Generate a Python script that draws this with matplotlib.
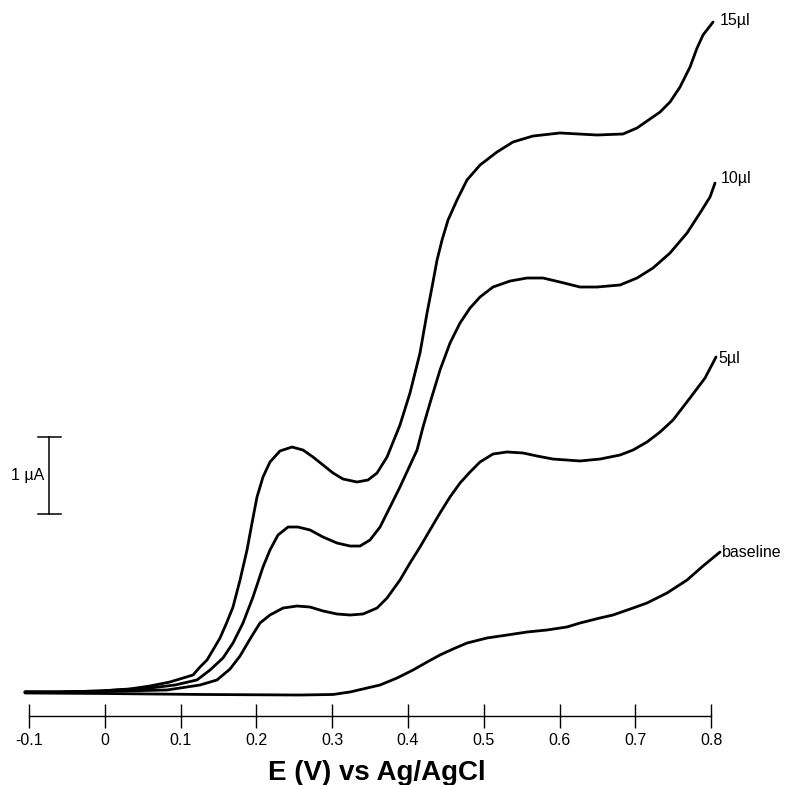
import numpy as np
import matplotlib
matplotlib.use("Agg")
import matplotlib.pyplot as plt

plt.rcParams['font.family'] = ['Liberation Sans', 'DejaVu Sans']

# potential (V vs Ag/AgCl) and current (uA, relative to start level)
E_15 = [-0.1053, -0.0591, -0.0063, 0.0332, 0.0596, 0.0860, 0.1032, 0.1164, 0.1256, 0.1348,
        0.1427, 0.1520, 0.1612, 0.1691, 0.1784, 0.1876, 0.1942, 0.2008, 0.2087, 0.2179,
        0.2311, 0.2470, 0.2615, 0.2747, 0.2879, 0.3011, 0.3142, 0.3327, 0.3472, 0.3591,
        0.3723, 0.3894, 0.4026, 0.4158, 0.4251, 0.4317, 0.4383, 0.4449, 0.4528, 0.4646,
        0.4778, 0.4950, 0.5174, 0.5385, 0.5649, 0.6005, 0.6493, 0.6836, 0.7021, 0.7153,
        0.7325, 0.7456, 0.7588, 0.7720, 0.7813, 0.7892, 0.8024]
I_15 = [0.013, 0.013, 0.026, 0.052, 0.090, 0.142, 0.193, 0.232, 0.335, 0.425,
        0.554, 0.709, 0.915, 1.108, 1.456, 1.843, 2.191, 2.526, 2.784, 2.977,
        3.119, 3.170, 3.131, 3.041, 2.938, 2.835, 2.758, 2.719, 2.745, 2.835,
        3.041, 3.454, 3.866, 4.382, 4.897, 5.232, 5.580, 5.838, 6.095, 6.353,
        6.611, 6.804, 6.972, 7.101, 7.178, 7.217, 7.191, 7.204, 7.281, 7.371,
        7.487, 7.616, 7.809, 8.067, 8.312, 8.480, 8.647]

E_10 = [-0.1053, -0.0591, -0.0063, 0.0596, 0.0926, 0.1216, 0.1388, 0.1559, 0.1691, 0.1823,
        0.1955, 0.2087, 0.2179, 0.2285, 0.2417, 0.2549, 0.2707, 0.2879, 0.3063, 0.3235,
        0.3367, 0.3499, 0.3631, 0.3763, 0.3894, 0.4119, 0.4198, 0.4290, 0.4422, 0.4554,
        0.4686, 0.4818, 0.4950, 0.5121, 0.5346, 0.5570, 0.5781, 0.6005, 0.6269, 0.6493,
        0.6797, 0.7021, 0.7232, 0.7456, 0.7681, 0.7852, 0.7984, 0.8050]
I_10 = [0.013, 0.013, 0.026, 0.064, 0.103, 0.168, 0.296, 0.451, 0.644, 0.902,
        1.237, 1.624, 1.843, 2.036, 2.139, 2.139, 2.101, 2.010, 1.933, 1.894,
        1.894, 1.972, 2.139, 2.397, 2.655, 3.131, 3.428, 3.737, 4.162, 4.510,
        4.768, 4.961, 5.103, 5.232, 5.309, 5.348, 5.348, 5.296, 5.232, 5.232,
        5.258, 5.348, 5.477, 5.670, 5.928, 6.186, 6.392, 6.572]

E_5 = [-0.1053, -0.0591, -0.0063, 0.0821, 0.1256, 0.1480, 0.1652, 0.1784, 0.1916, 0.2047,
       0.2179, 0.2351, 0.2536, 0.2707, 0.2879, 0.3063, 0.3235, 0.3406, 0.3591, 0.3723,
       0.3894, 0.4026, 0.4158, 0.4290, 0.4422, 0.4554, 0.4686, 0.4818, 0.4950, 0.5121,
       0.5306, 0.5517, 0.5702, 0.5913, 0.6269, 0.6533, 0.6797, 0.6968, 0.7153, 0.7325,
       0.7496, 0.7720, 0.7918, 0.8063]
I_5 = [0.013, 0.013, 0.019, 0.039, 0.103, 0.168, 0.309, 0.477, 0.696, 0.902,
       1.005, 1.095, 1.121, 1.108, 1.057, 1.018, 1.005, 1.018, 1.095, 1.224,
       1.456, 1.675, 1.881, 2.101, 2.320, 2.526, 2.706, 2.848, 2.977, 3.080,
       3.106, 3.093, 3.054, 3.015, 2.990, 3.015, 3.067, 3.131, 3.235, 3.363,
       3.518, 3.802, 4.059, 4.330]

E_base = [-0.1053, -0.0063, 0.1256, 0.2575, 0.3011, 0.3235, 0.3459, 0.3631, 0.3855, 0.4066,
          0.4251, 0.4422, 0.4594, 0.4778, 0.5042, 0.5306, 0.5570, 0.5834, 0.6098, 0.6269,
          0.6533, 0.6704, 0.6968, 0.7153, 0.7417, 0.7681, 0.7892, 0.8116]
I_base = [0.0, -0.006, -0.019, -0.026, -0.019, 0.013, 0.064, 0.103, 0.193, 0.296,
          0.399, 0.490, 0.567, 0.644, 0.709, 0.747, 0.786, 0.812, 0.851, 0.902,
          0.967, 1.005, 1.095, 1.160, 1.289, 1.456, 1.637, 1.817]

curve_labels = ['15\u00b5l', '10\u00b5l', '5\u00b5l', 'baseline']
xticks = [-0.1, 0.0, 0.1, 0.2, 0.3, 0.4, 0.5, 0.6, 0.7, 0.8]
xticklabels = ['-0.1', '0', '0.1', '0.2', '0.3', '0.4', '0.5', '0.6', '0.7', '0.8']
scale_bar = [2.303, 3.303]  # 1 uA

fig = plt.figure(figsize=(7.86, 7.85), dpi=100)
ax = fig.add_axes([0.01761, 0.0879, 0.9162, 0.9057])
ax.set_xlim(-0.12, 0.83)
ax.set_ylim(-0.2964, 8.866)

curves = [(E_15, I_15), (E_10, I_10), (E_5, I_5), (E_base, I_base)]
for E, I in curves:
    ax.plot(E, I, color='black', lw=2.0, solid_capstyle='round', solid_joinstyle='round')

# labels at the end of each curve
label_pos = [(0.8108, 8.673), (0.8125, 6.624), (0.809, 4.317), (0.8138, 1.81)]
for txt, (x, y) in zip(curve_labels, label_pos):
    ax.text(x, y, txt, fontsize=11.5, ha='left', va='center', clip_on=False)

# scale bar
xb = -0.0732
ax.plot([xb, xb], scale_bar, color='black', lw=1.1)
for yy in scale_bar:
    ax.plot([-0.0881, -0.0582], [yy, yy], color='black', lw=1.1)
ax.text(-0.080, np.mean(scale_bar), '1 \u00b5A', fontsize=11.5, ha='right', va='center')

for s in ['top', 'left', 'right']:
    ax.spines[s].set_visible(False)
ax.spines['bottom'].set_bounds(-0.1, 0.8)
ax.spines['bottom'].set_linewidth(1.0)
ax.set_yticks([])
ax.set_xticks(xticks)
ax.set_xticklabels(xticklabels, fontsize=11.5)
ax.tick_params(axis='x', direction='inout', length=16.6, width=1.0, pad=4.2)

fig.text(0.48, 0.00637, 'E (V) vs Ag/AgCl', fontsize=20, fontweight='bold',
         ha='center', va='baseline')

fig.savefig('out.png', dpi=100)
